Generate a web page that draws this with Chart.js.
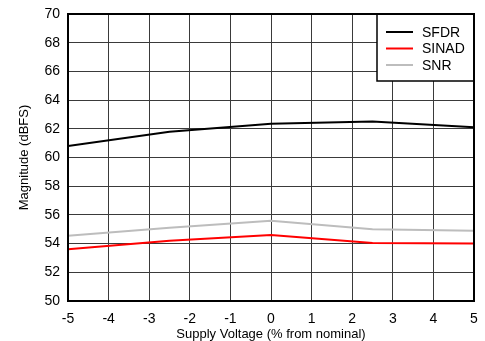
<!DOCTYPE html>
<html>
<head>
<meta charset="utf-8">
<script src="https://cdn.jsdelivr.net/npm/chart.js@4/dist/chart.umd.min.js"></script>
<style>
html,body{margin:0;padding:0;background:#fff;}
#wrap{width:485px;height:341px;}
</style>
</head>
<body>
<div id="wrap"><canvas id="c" width="485" height="341"></canvas></div>
<script>
const supplyVoltage = [-5, -2.5, 0, 2.5, 5];
const sfdr  = [60.8, 61.8, 62.35, 62.5, 62.1];
const sinad = [53.6, 54.2, 54.6, 54.05, 54.0];
const snr   = [54.55, 55.1, 55.6, 55.0, 54.9];
const seriesNames = ['SFDR', 'SINAD', 'SNR'];
const seriesColors = ['#000000', '#ff0000', '#bdbdbd'];

const FONT = "'Liberation Sans', Arial, sans-serif";

function pts(arr){ return supplyVoltage.map((x,i)=>({x:x, y:arr[i]})); }

function noPad(s){ s.paddingTop = 0; s.paddingBottom = 0; s.paddingLeft = 0; s.paddingRight = 0; }

const frame = {
  id: 'frame',
  afterDatasetsDraw(chart){
    const {ctx, chartArea:a} = chart;
    ctx.save();
    // legend box
    const bx = 377, by = a.top, bw = a.right - 377, bh = 67;
    ctx.fillStyle = '#fff';
    ctx.fillRect(bx, by, bw, bh);
    ctx.strokeStyle = '#000';
    ctx.lineWidth = 1.5;
    ctx.strokeRect(bx, by, bw, bh);
    ctx.font = '14px ' + FONT;
    ctx.textBaseline = 'middle';
    chart.data.datasets.forEach((ds,i)=>{
      const y = by + 18 + i*16.5;
      ctx.strokeStyle = ds.borderColor;
      ctx.lineWidth = 2;
      ctx.beginPath();
      ctx.moveTo(bx + 9, y);
      ctx.lineTo(bx + 36, y);
      ctx.stroke();
      ctx.fillStyle = '#000';
      ctx.fillText(ds.label, bx + 45, y + 1);
    });
    // plot border
    ctx.strokeStyle = '#000';
    ctx.lineWidth = 2;
    ctx.strokeRect(a.left, a.top, a.right - a.left, a.bottom - a.top);
    ctx.restore();
  }
};

new Chart(document.getElementById('c'), {
  type: 'line',
  data: {
    datasets: [
      {label: seriesNames[0], data: pts(sfdr), borderColor: seriesColors[0], borderWidth: 2, pointRadius: 0, tension: 0},
      {label: seriesNames[1], data: pts(sinad), borderColor: seriesColors[1], borderWidth: 2, pointRadius: 0, tension: 0},
      {label: seriesNames[2], data: pts(snr), borderColor: seriesColors[2], borderWidth: 2, pointRadius: 0, tension: 0}
    ]
  },
  options: {
    responsive: false,
    animation: false,
    layout: {padding: {left: 0, right: 11, top: 14, bottom: 0}},
    plugins: {legend: {display: false}, tooltip: {enabled: false}},
    scales: {
      x: {
        type: 'linear', min: -5, max: 5,
        ticks: {stepSize: 1, color: '#000', font: {family: FONT, size: 14}, padding: 10, maxRotation: 0},
        grid: {color: '#3a3a3a', lineWidth: 1, drawTicks: false},
        border: {display: false},
        title: {display: true, text: 'Supply Voltage (% from nominal)', color: '#000', font: {family: FONT, size: 13}, padding: {top: 0, bottom: -1}},
        afterFit(s){ s.height = 40; noPad(s); }
      },
      y: {
        min: 50, max: 70,
        ticks: {stepSize: 2, color: '#000', font: {family: FONT, size: 14}, padding: 8},
        grid: {color: '#3a3a3a', lineWidth: 1, drawTicks: false},
        border: {display: false},
        title: {display: true, text: 'Magnitude (dBFS)', color: '#000', font: {family: FONT, size: 13}, padding: {top: 17, bottom: 0}},
        afterFit(s){ s.width = 68; noPad(s); }
      }
    }
  },
  plugins: [frame]
});
</script>
</body>
</html>
